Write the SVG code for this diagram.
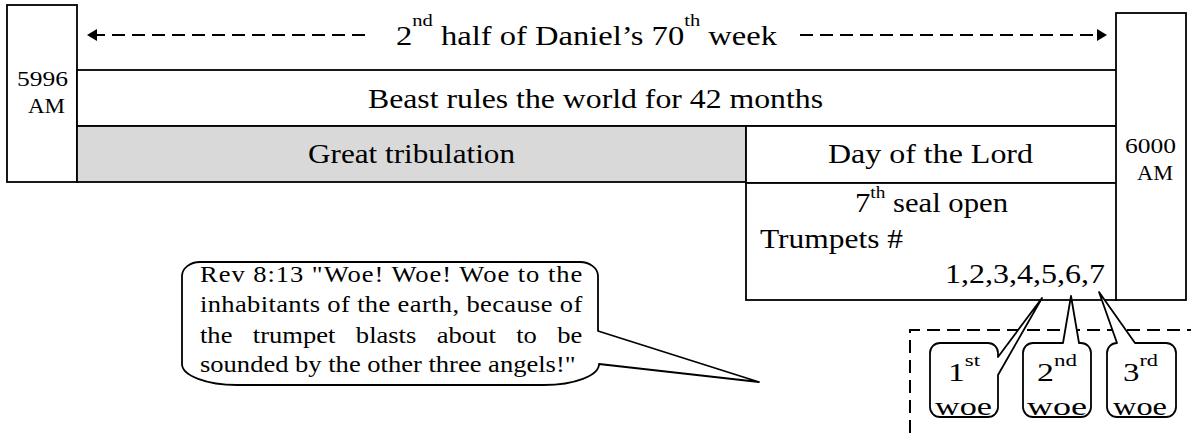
<svg xmlns="http://www.w3.org/2000/svg" width="1191" height="433" viewBox="0 0 1191 433">
<style>
.box{fill:#fff;stroke:#000;stroke-width:1.8}
.gray{fill:#d9d9d9;stroke:#000;stroke-width:1.8}
.t{font-family:"Liberation Serif","Times New Roman",serif;font-size:27px;fill:#000}
.s{font-family:"Liberation Serif","Times New Roman",serif;font-size:22px;fill:#000}
.w{font-family:"Liberation Serif","Times New Roman",serif;font-size:25px;fill:#000}
.b{font-family:"Liberation Serif","Times New Roman",serif;font-size:22.5px;fill:#000}
.sup{font-size:17px}
.dash{fill:none;stroke:#000;stroke-width:2;stroke-dasharray:13 7}
.call{fill:#fff;stroke:#000;stroke-width:1.8;stroke-linejoin:round}
</style>
<defs>
<marker id="ah" viewBox="0 0 10 12" refX="0" refY="6" markerWidth="10" markerHeight="12" orient="auto" markerUnits="userSpaceOnUse">
<path d="M0,0 L10,6 L0,12 Z" fill="#000"/>
</marker>
</defs>

<g id="left-year">
<rect class="box" x="7" y="5" width="70" height="177"/>
<text class="s" x="17" y="86" textLength="51" lengthAdjust="spacingAndGlyphs">5996</text>
<text class="s" x="28" y="113" textLength="37" lengthAdjust="spacingAndGlyphs">AM</text>
</g>

<g id="beast">
<rect class="box" x="77" y="70" width="1040" height="56"/>
<text class="t" x="368" y="108" textLength="455" lengthAdjust="spacingAndGlyphs">Beast rules the world for 42 months</text>
</g>

<g id="tribulation">
<rect class="gray" x="77" y="126" width="669" height="56"/>
<text class="t" x="308" y="163" textLength="207" lengthAdjust="spacingAndGlyphs">Great tribulation</text>
</g>

<g id="day-of-lord">
<rect class="box" x="746" y="126" width="371" height="57"/>
<text class="t" x="828" y="163" textLength="205" lengthAdjust="spacingAndGlyphs">Day of the Lord</text>
</g>

<g id="trumpets">
<rect class="box" x="746" y="183" width="371" height="117"/>
<text class="t" x="855" y="212" textLength="153" lengthAdjust="spacingAndGlyphs">7<tspan class="sup" dy="-14">th</tspan><tspan dy="14"> seal open</tspan></text>
<text class="t" x="760" y="248" textLength="143" lengthAdjust="spacingAndGlyphs">Trumpets #</text>
<text class="t" x="945" y="283" textLength="160" lengthAdjust="spacingAndGlyphs">1,2,3,4,5,6,7</text>
</g>

<g id="right-year">
<rect class="box" x="1116" y="13" width="70" height="287"/>
<text class="s" x="1125" y="153" textLength="51" lengthAdjust="spacingAndGlyphs">6000</text>
<text class="s" x="1137" y="180" textLength="36" lengthAdjust="spacingAndGlyphs">AM</text>
</g>

<g id="title">
<text class="t" x="396" y="45" textLength="381" lengthAdjust="spacingAndGlyphs">2<tspan class="sup" dy="-19">nd</tspan><tspan dy="19"> half of Daniel’s 70</tspan><tspan class="sup" dy="-19">th</tspan><tspan dy="19"> week</tspan></text>
</g>

<g id="connectors">
<path class="dash" d="M365,35 H97" marker-end="url(#ah)"/>
<path class="dash" d="M800,35 H1097" marker-end="url(#ah)"/>
<path class="dash" d="M910,433 V330 H1191"/>
</g>

<g id="rev-callout">
<path class="call" d="M200,262 H580 A18 14 0 0 1 598 276 V331 L759,382 L599,364 A55 21 0 0 1 544 385 H237 A55 21 0 0 1 182 364 V276 A18 14 0 0 1 200 262 Z"/>
<g transform="translate(200,0) scale(1.18,1)">
<text class="b" x="0" y="282" textLength="324" lengthAdjust="spacing">Rev 8:13 "Woe! Woe! Woe to the</text>
<text class="b" x="0" y="312" textLength="324" lengthAdjust="spacing">inhabitants of the earth, because of</text>
<text class="b" y="343"><tspan x="0">the</tspan><tspan x="44.8">trumpet</tspan><tspan x="132.1">blasts</tspan><tspan x="200.7">about</tspan><tspan x="268">to</tspan><tspan x="302.8">be</tspan></text>
<text class="b" x="0" y="372">sounded by the other three angels!"</text>
</g>
</g>

<g id="woe1">
<path class="call" d="M940,343 H988 A10 10 0 0 1 998 353 V357 L1042,298 L998,375 V407 A10 10 0 0 1 988 417 H940 A10 10 0 0 1 930 407 V353 A10 10 0 0 1 940 343 Z"/>
<text class="w" x="948" y="381" textLength="32" lengthAdjust="spacingAndGlyphs">1<tspan class="sup" dy="-15" font-size="16">st</tspan></text>
<text class="w" x="935" y="415" textLength="57" lengthAdjust="spacingAndGlyphs">woe</text>
</g>

<g id="woe2">
<path class="call" d="M1033,343 H1063 L1071,296 L1079,343 H1081 A10 10 0 0 1 1091 353 V407 A10 10 0 0 1 1081 417 H1033 A10 10 0 0 1 1023 407 V353 A10 10 0 0 1 1033 343 Z"/>
<text class="w" x="1037" y="381" textLength="40" lengthAdjust="spacingAndGlyphs">2<tspan class="sup" dy="-15" font-size="16">nd</tspan></text>
<text class="w" x="1027" y="415" textLength="60" lengthAdjust="spacingAndGlyphs">woe</text>
</g>

<g id="woe3">
<path class="call" d="M1117,343 L1099,292 L1135,343 H1166 A10 10 0 0 1 1176 353 V407 A10 10 0 0 1 1166 417 H1117 A10 10 0 0 1 1107 407 V353 A10 10 0 0 1 1117 343 Z"/>
<text class="w" x="1123" y="381" textLength="35" lengthAdjust="spacingAndGlyphs">3<tspan class="sup" dy="-15" font-size="16">rd</tspan></text>
<text class="w" x="1113" y="415" textLength="54" lengthAdjust="spacingAndGlyphs">woe</text>
</g>
</svg>
